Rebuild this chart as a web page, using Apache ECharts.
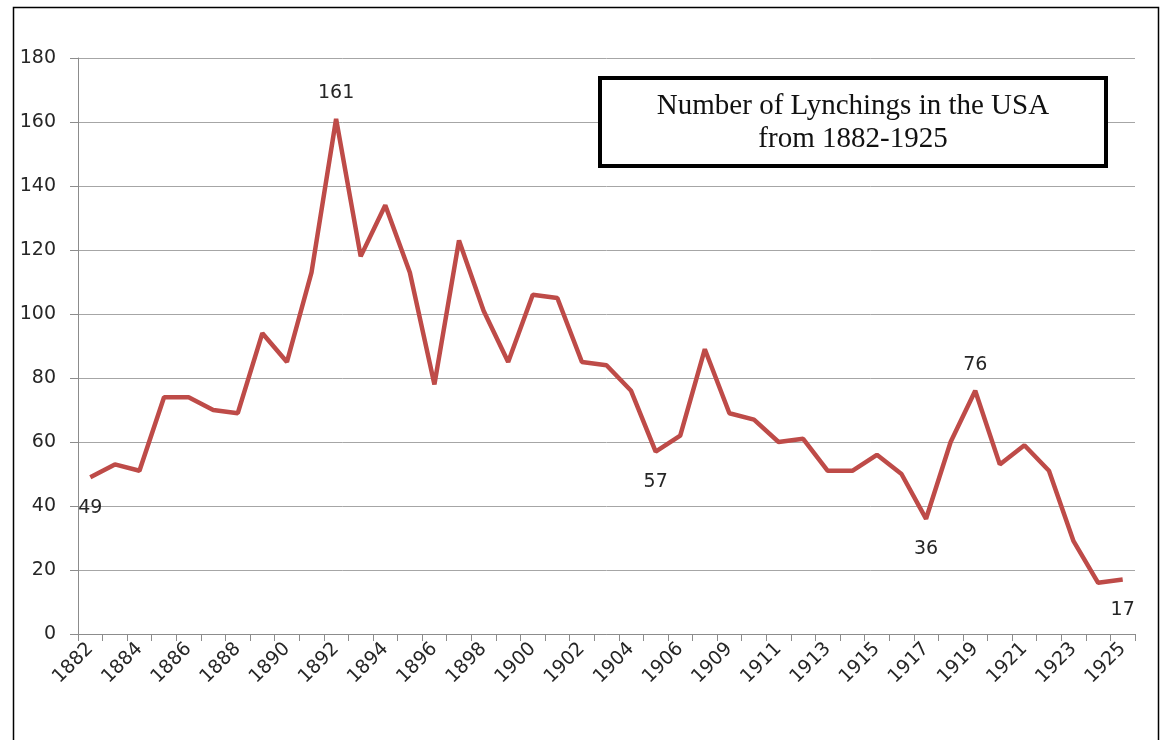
<!DOCTYPE html>
<html>
<head>
<meta charset="utf-8">
<script src="https://cdn.jsdelivr.net/npm/echarts@6/dist/echarts.min.js"></script>
<style>
  html, body { margin: 0; padding: 0; background: #fff; }
  #chart { width: 1161px; height: 740px; }
</style>
</head>
<body>
<div id="chart"></div>
<script>
// 年份（1907 年缺失）
const years = [
  "1882", "1883", "1884", "1885", "1886", "1887", "1888", "1889", "1890", "1891",
  "1892", "1893", "1894", "1895", "1896", "1897", "1898", "1899", "1900", "1901",
  "1902", "1903", "1904", "1905", "1906", "1908", "1909", "1910", "1911", "1912",
  "1913", "1914", "1915", "1916", "1917", "1918", "1919", "1920", "1921", "1922",
  "1923", "1924", "1925"
];
const lynchings = [
  49, 53, 51, 74, 74, 70, 69, 94, 85, 113,
  161, 118, 134, 113, 78, 123, 101, 85, 106, 105,
  85, 84, 76, 57, 62, 89, 69, 67, 60, 61,
  51, 51, 56, 50, 36, 60, 76, 53, 59, 51,
  29, 16, 17
];
const yTicks = [0, 20, 40, 60, 80, 100, 120, 140, 160, 180];
const labelAbove = ["1892", "1919"];
const labelBelow = ["1882", "1905", "1917", "1925"];
const titleLines = ["Number of Lynchings in the USA", "from 1882-1925"];

const textColor = "#262626";
const font = "'DejaVu Sans', sans-serif";

const seriesData = lynchings.map((v, i) => {
  const y = years[i];
  let label = { show: false };
  if (labelAbove.includes(y)) label = { show: true, position: "top", distance: 16 };
  if (labelBelow.includes(y)) label = { show: true, position: "bottom", distance: 21 };
  return { value: v, label };
});

const chart = echarts.init(document.getElementById("chart"));
chart.setOption({
  animation: false,
  backgroundColor: "#fff",
  grid: { left: 78, right: 26, top: 58, bottom: 106, containLabel: false },
  xAxis: {
    type: "category",
    data: years,
    boundaryGap: true,
    axisLine: { lineStyle: { color: "#8c8c8c", width: 1 } },
    axisTick: { show: true, length: 7, interval: 0, lineStyle: { color: "#8c8c8c" } },
    axisLabel: {
      interval: 1, rotate: 45, margin: 12,
      color: textColor, fontFamily: font, fontSize: 19
    },
    splitLine: { show: false }
  },
  yAxis: {
    type: "value",
    min: yTicks[0],
    max: yTicks[yTicks.length - 1],
    interval: yTicks[1] - yTicks[0],
    axisLine: { show: true, lineStyle: { color: "#8c8c8c", width: 1 } },
    axisTick: { show: true, length: 8, lineStyle: { color: "#8c8c8c" } },
    axisLabel: { margin: 22, color: textColor, fontFamily: font, fontSize: 19 },
    splitLine: { show: true, lineStyle: { color: "#a6a6a6", width: 1 } }
  },
  series: [{
    type: "line",
    data: seriesData,
    symbol: "circle",
    symbolSize: 0,
    showSymbol: true,
    lineStyle: { color: "#be4b48", width: 4.5 },
    itemStyle: { color: "#be4b48" },
    label: { color: textColor, fontFamily: font, fontSize: 19 }
  }],
  graphic: [
    // 外框
    {
      type: "rect",
      shape: { x: 13.5, y: 7.5, width: 1145, height: 800 },
      style: { fill: "none", stroke: "#000", lineWidth: 1.5 },
      silent: true
    },
    // 标题框
    {
      type: "rect",
      shape: { x: 600, y: 78, width: 506, height: 88 },
      style: { fill: "#fff", stroke: "#000", lineWidth: 4 },
      z: 10
    },
    {
      type: "text",
      x: 853, y: 123,
      z: 11,
      style: {
        text: titleLines.join("\n"),
        align: "center",
        verticalAlign: "middle",
        fill: "#111",
        font: "29px 'Liberation Serif', serif",
        lineHeight: 33
      }
    }
  ]
});
</script>
</body>
</html>
